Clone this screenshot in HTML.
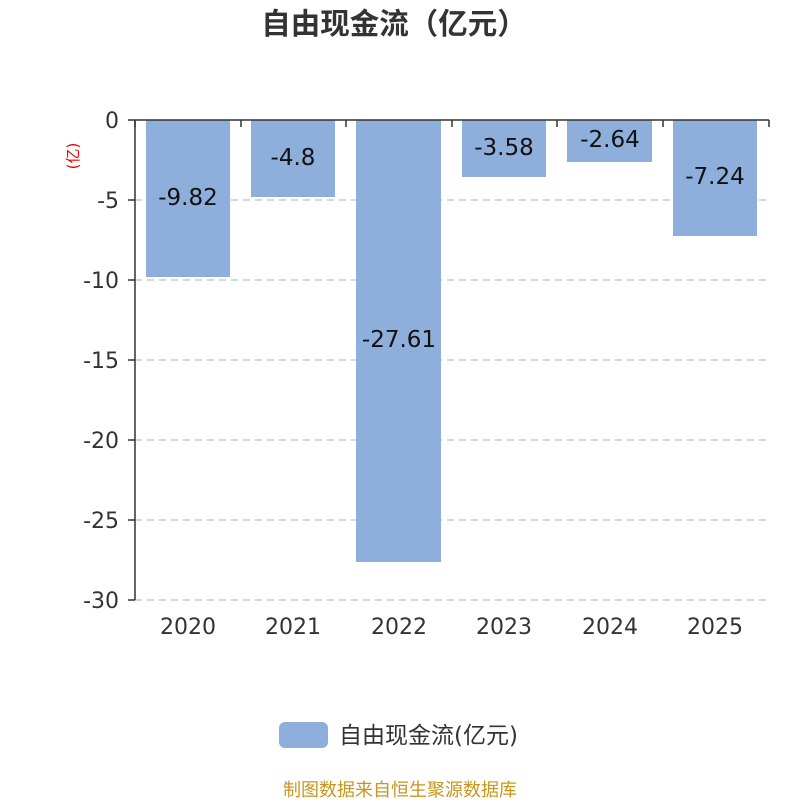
<!DOCTYPE html>
<html><head><meta charset="utf-8"><style>
body{margin:0;background:#fff;}
svg text{font-family:"DejaVu Sans","Noto Sans CJK SC",sans-serif;}
</style></head><body>
<svg width="800" height="800" viewBox="0 0 800 800" xmlns="http://www.w3.org/2000/svg">
<rect width="800" height="800" fill="#fff"/>
<text x="394" y="34" text-anchor="middle" font-size="29.5" font-weight="bold" fill="#333">自由现金流（亿元）</text>
<g stroke="#ccc" stroke-width="1.5" stroke-dasharray="7,5">
<line x1="135" y1="200" x2="769" y2="200"/>
<line x1="135" y1="280" x2="769" y2="280"/>
<line x1="135" y1="360" x2="769" y2="360"/>
<line x1="135" y1="440" x2="769" y2="440"/>
<line x1="135" y1="520" x2="769" y2="520"/>
<line x1="135" y1="600" x2="769" y2="600"/>
</g>
<g fill="#8eaedb">
<rect x="146" y="120" width="84" height="157"/>
<rect x="251" y="120" width="84" height="77"/>
<rect x="356" y="120" width="85" height="442"/>
<rect x="462" y="120" width="84" height="57"/>
<rect x="567" y="120" width="85" height="42"/>
<rect x="673" y="120" width="84" height="116"/>
</g>
<g stroke="#333" stroke-width="1.5">
<line x1="135" y1="120" x2="769" y2="120"/>
<line x1="135" y1="120" x2="135" y2="600"/>
<line x1="135" y1="120" x2="135" y2="127"/><line x1="241" y1="120" x2="241" y2="127"/><line x1="346" y1="120" x2="346" y2="127"/><line x1="452" y1="120" x2="452" y2="127"/><line x1="557" y1="120" x2="557" y2="127"/><line x1="663" y1="120" x2="663" y2="127"/><line x1="769" y1="120" x2="769" y2="127"/>
<line x1="128" y1="120" x2="135" y2="120"/><line x1="128" y1="200" x2="135" y2="200"/><line x1="128" y1="280" x2="135" y2="280"/><line x1="128" y1="360" x2="135" y2="360"/><line x1="128" y1="440" x2="135" y2="440"/><line x1="128" y1="520" x2="135" y2="520"/><line x1="128" y1="600" x2="135" y2="600"/>
</g>
<g font-size="22" fill="#333" text-anchor="end">
<text x="119" y="128">0</text><text x="119" y="208">-5</text><text x="119" y="288">-10</text><text x="119" y="368">-15</text><text x="119" y="448">-20</text><text x="119" y="528">-25</text><text x="119" y="608">-30</text>
</g>
<g font-size="22" fill="#333" text-anchor="middle">
<text x="188" y="634">2020</text><text x="293" y="634">2021</text><text x="399" y="634">2022</text><text x="504" y="634">2023</text><text x="610" y="634">2024</text><text x="715" y="634">2025</text>
</g>
<g font-size="23" fill="#111" text-anchor="middle">
<text x="188" y="205">-9.82</text><text x="293" y="165">-4.8</text><text x="399" y="347">-27.61</text><text x="504" y="155">-3.58</text><text x="610" y="147">-2.64</text><text x="715" y="184">-7.24</text>
</g>
<text transform="translate(78,156) rotate(-90)" font-size="15" fill="#e00" text-anchor="middle">(亿)</text>
<rect x="279" y="722" width="49" height="26" rx="6" fill="#8eaedb"/>
<text x="339" y="743" font-size="23" fill="#333">自由现金流(亿元)</text>
<text x="400" y="796" font-size="18" fill="#c8961e" text-anchor="middle">制图数据来自恒生聚源数据库</text>
</svg>
</body></html>
